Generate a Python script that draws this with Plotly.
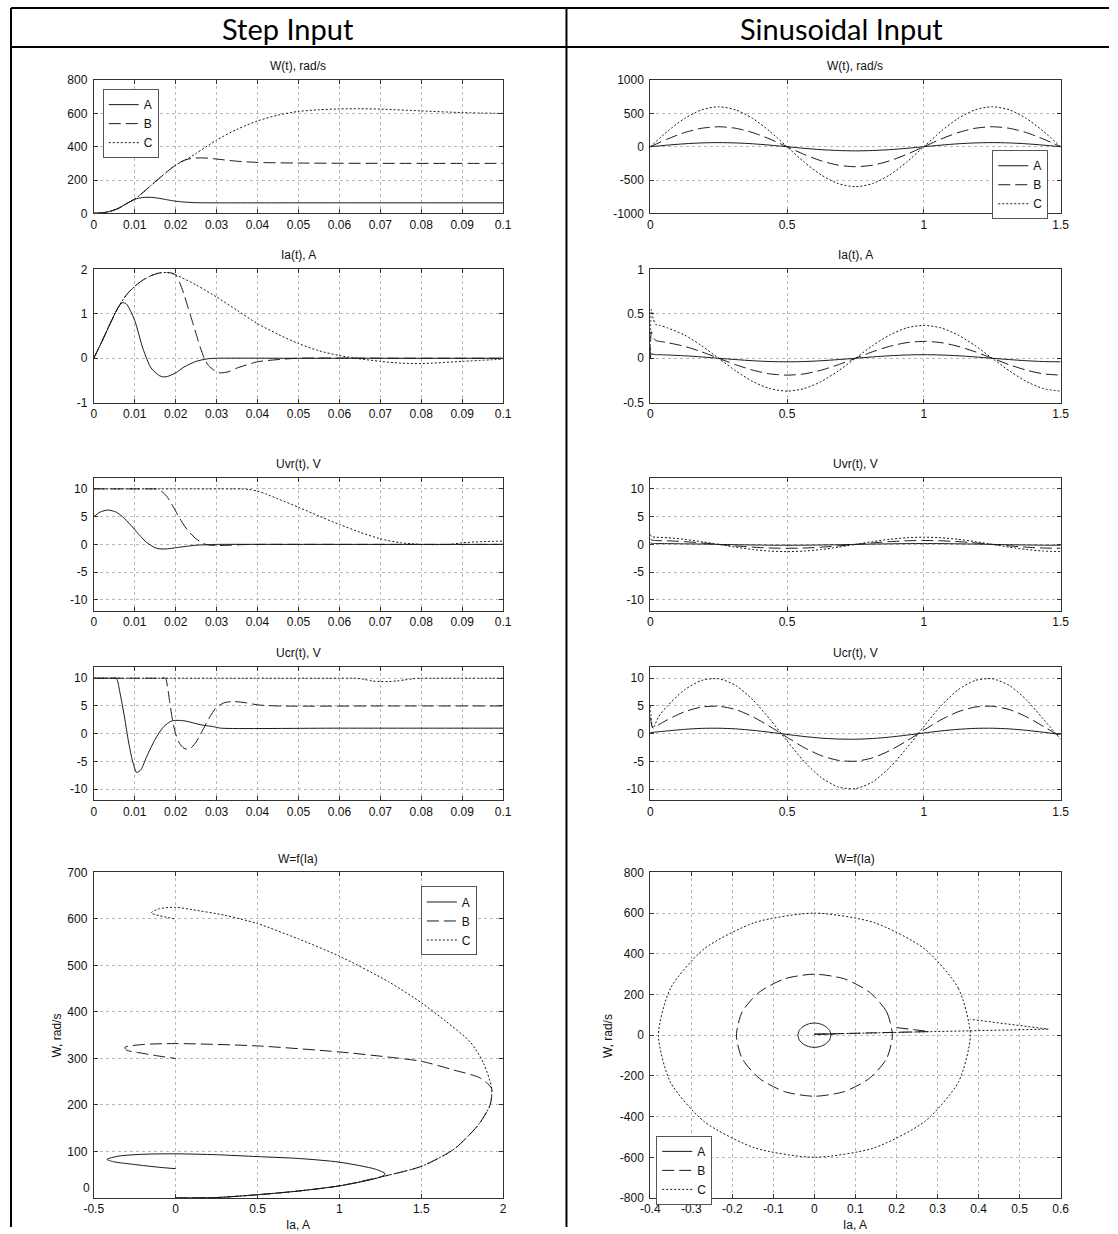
import plotly.graph_objects as go

W, H = 1118, 1234
# measured: the page photo shows the figure shrunk slightly and shifted by the body margin;
# these factors map reference pixels to figure pixels
SX, SY, OX, OY = 0.9857, 0.987, 8.0, 8.0

# ---------------- DATA ----------------
step_t_ticks = [0, 0.01, 0.02, 0.03, 0.04, 0.05, 0.06, 0.07, 0.08, 0.09, 0.1]
step_t_ticktext = ["0", "0.01", "0.02", "0.03", "0.04", "0.05", "0.06", "0.07", "0.08", "0.09", "0.1"]
sin_t_ticks = [0, 0.5, 1, 1.5]
sin_t_ticktext = ["0", "0.5", "1", "1.5"]

# Step W(t)
step_W_tA = [0, .002, .004, .006, .008, .010, .012, .014, .016, .018, .020, .022, .025, .030, .05, .1]
step_W_A = [0, 3, 12, 30, 58, 84, 95, 96, 90, 81, 73, 68, 64, 63, 63, 63]
step_W_tB = [0, .002, .004, .006, .008, .010, .012, .014, .016, .018, .020, .022, .024, .026, .028, .030, .035, .040, .050, .075, .1]
step_W_B = [0, 3, 12, 30, 58, 86, 125, 168, 210, 252, 290, 318, 330, 333, 331, 326, 313, 306, 302, 300, 300]
step_W_tC = [0, .002, .004, .006, .008, .010, .012, .014, .016, .018, .020, .022, .025, .030, .035, .040, .045, .050, .055, .060, .065, .070, .080, .090, .1]
step_W_C = [0, 3, 12, 30, 58, 86, 125, 168, 210, 252, 290, 315, 360, 440, 505, 555, 590, 612, 622, 627, 628, 626, 615, 605, 600]

# Step Ia(t)
step_I_tA = [0, .002, .004, .006, .007, .008, .010, .012, .014, .016, .017, .018, .020, .022, .025, .028, .030, .05, .1]
step_I_A = [0, 0.38, 0.78, 1.15, 1.25, 1.22, 0.85, 0.22, -0.22, -0.39, -0.42, -0.41, -0.33, -0.2, -0.07, -0.01, 0, 0, 0]
step_I_tB = [0, .002, .004, .006, .008, .010, .012, .014, .016, .018, .019, .020, .021, .022, .023, .024, .025, .026, .027, .028, .030, .031, .033, .035, .040, .045, .050, .075, .1]
step_I_B = [0, 0.38, 0.78, 1.15, 1.43, 1.62, 1.76, 1.86, 1.92, 1.93, 1.92, 1.88, 1.7, 1.45, 1.15, 0.85, 0.55, 0.25, 0.0, -0.16, -0.31, -0.33, -0.3, -0.22, -0.08, -0.03, 0, 0, 0]
step_I_tC = [0, .002, .004, .006, .008, .010, .012, .014, .016, .018, .020, .025, .030, .035, .040, .045, .050, .055, .060, .064, .070, .075, .080, .090, .1]
step_I_C = [0, 0.38, 0.78, 1.15, 1.43, 1.62, 1.76, 1.86, 1.92, 1.93, 1.88, 1.65, 1.38, 1.08, 0.78, 0.54, 0.33, 0.17, 0.06, 0, -0.07, -0.11, -0.12, -0.07, -0.02]

# Step Uvr(t)
step_Uv_tA = [0, .0015, .0035, .0055, .007, .009, .011, .013, .015, .016, .018, .020, .022, .025, .028, .030, .05, .1]
step_Uv_A = [5, 5.8, 6.2, 5.8, 5, 3.5, 1.8, 0.3, -0.6, -0.8, -0.8, -0.6, -0.4, -0.15, -0.05, 0, 0, 0]
step_Uv_tB = [0, .008, .014, .015, .016, .017, .018, .019, .020, .021, .022, .023, .024, .025, .026, .027, .028, .030, .033, .036, .040, .07, .1]
step_Uv_B = [10, 10, 10, 10, 9.8, 9.3, 8.5, 7.3, 6.0, 4.7, 3.5, 2.5, 1.7, 1.0, 0.5, 0.1, -0.1, -0.2, -0.15, -0.05, 0, 0, 0]
step_Uv_tC = [0, .02, .034, .036, .038, .040, .042, .045, .050, .055, .060, .065, .070, .075, .080, .087, .090, .095, .1]
step_Uv_C = [10, 10, 10, 10, 9.9, 9.6, 9.1, 8.2, 6.7, 5.1, 3.6, 2.2, 1.0, 0.3, 0, 0, 0.3, 0.5, 0.6]

# Step Ucr(t)
step_Uc_tA = [0, .003, .0045, .0055, .0065, .0075, .0085, .0095, .0105, .0115, .013, .015, .017, .019, .021, .023, .025, .027, .029, .030, .031, .06, .1]
step_Uc_A = [10, 10, 10, 10, 7, 3, -1.5, -5, -7, -6.5, -4, -1, 1.2, 2.3, 2.4, 2.2, 1.8, 1.5, 1.3, 1.15, 1, 1, 1]
step_Uc_tB = [0, .009, .016, .0175, .018, .0185, .019, .0195, .020, .021, .022, .023, .024, .025, .026, .027, .028, .029, .030, .032, .034, .037, .040, .045, .07, .1]
step_Uc_B = [10, 10, 10, 10, 8.5, 6, 3.5, 1.5, 0, -1.8, -2.6, -2.8, -2.4, -1.5, -0.2, 1.2, 2.6, 3.8, 4.8, 5.6, 5.8, 5.6, 5.2, 5, 5, 5]
step_Uc_tC = [0, .03, .062, .064, .066, .068, .070, .072, .074, .076, .078, .080, .082, .09, .1]
step_Uc_C = [10, 10, 10, 10, 9.8, 9.5, 9.4, 9.4, 9.5, 9.7, 9.9, 10, 10, 10, 10]

# Step W = f(Ia)
step_ph_IA = [0, 0.25, 0.5, 0.75, 1.0, 1.15, 1.25, 1.28, 1.22, 1.0, 0.75, 0.5, 0.25, 0, -0.2, -0.35, -0.42, -0.38, -0.25, -0.1, 0]
step_ph_WA = [0, 1, 7, 15, 26, 36, 45, 52, 62, 77, 85, 89, 93, 95, 94, 90, 83, 78, 72, 66, 63]
step_ph_IB = [0, 0.25, 0.5, 0.75, 1.0, 1.25, 1.5, 1.7, 1.85, 1.92, 1.93, 1.86, 1.7, 1.5, 1.3, 1.0, 0.5, 0, -0.2, -0.31, -0.3, -0.2, -0.1, 0]
step_ph_WB = [0, 1, 7, 15, 26, 45, 68, 105, 158, 200, 235, 258, 275, 294, 303, 314, 327, 332, 330, 324, 318, 311, 305, 300]
step_ph_IC = [0, 0.25, 0.5, 0.75, 1.0, 1.25, 1.5, 1.7, 1.85, 1.92, 1.93, 1.88, 1.8, 1.65, 1.5, 1.3, 1.0, 0.75, 0.5, 0.3, 0.1, 0, -0.1, -0.15, -0.1, -0.03, 0]
step_ph_WC = [0, 1, 7, 15, 26, 45, 68, 105, 158, 200, 235, 290, 335, 380, 420, 465, 520, 557, 590, 608, 620, 625, 622, 613, 607, 602, 600]

# Sinusoidal input
sin_t = [0, 0.0625, 0.125, 0.1875, 0.25, 0.3125, 0.375, 0.4375, 0.5, 0.5625, 0.625, 0.6875, 0.75,
         0.8125, 0.875, 0.9375, 1.0, 1.0625, 1.125, 1.1875, 1.25, 1.3125, 1.375, 1.4375, 1.5]
sin_W_A = [0, 24, 44, 57, 62, 57, 44, 24, 0, -24, -44, -57, -62, -57, -44, -24, 0, 24, 44, 57, 62, 57, 44, 24, 0]
sin_W_B = [0, 115, 212, 277, 300, 277, 212, 115, 0, -115, -212, -277, -300, -277, -212, -115, 0, 115, 212, 277, 300, 277, 212, 115, 0]
sin_W_C = [0, 230, 424, 554, 600, 554, 424, 230, 0, -230, -424, -554, -600, -554, -424, -230, 0, 230, 424, 554, 600, 554, 424, 230, 0]

sin_I_t = [0, 0.004, 0.01, 0.02, 0.035, 0.0625, 0.125, 0.1875, 0.25, 0.3125, 0.375, 0.4375, 0.5, 0.5625, 0.625, 0.6875, 0.75,
           0.8125, 0.875, 0.9375, 1.0, 1.0625, 1.125, 1.1875, 1.25, 1.3125, 1.375, 1.4375, 1.5]
sin_I_A = [0, 0.05, 0.045, 0.04, 0.04, 0.037, 0.028, 0.015, 0, -0.015, -0.028, -0.037, -0.04, -0.037, -0.028, -0.015, 0,
           0.015, 0.028, 0.037, 0.04, 0.037, 0.028, 0.015, 0, -0.015, -0.028, -0.037, -0.04]
sin_I_B = [0, 0.3, 0.24, 0.2, 0.19, 0.176, 0.134, 0.073, 0, -0.073, -0.134, -0.176, -0.19, -0.176, -0.134, -0.073, 0,
           0.073, 0.134, 0.176, 0.19, 0.176, 0.134, 0.073, 0, -0.073, -0.134, -0.176, -0.19]
sin_I_C = [0, 0.55, 0.45, 0.38, 0.37, 0.342, 0.262, 0.142, 0, -0.142, -0.262, -0.342, -0.37, -0.342, -0.262, -0.142, 0,
           0.142, 0.262, 0.342, 0.37, 0.342, 0.262, 0.142, 0, -0.142, -0.262, -0.342, -0.37]

sin_U_t = [0, 0.005, 0.02, 0.0625, 0.125, 0.1875, 0.25, 0.3125, 0.375, 0.4375, 0.5, 0.5625, 0.625, 0.6875, 0.75,
           0.8125, 0.875, 0.9375, 1.0, 1.0625, 1.125, 1.1875, 1.25, 1.3125, 1.375, 1.4375, 1.5]
sin_Uv_A = [0.3, 0.2, 0.15, 0.14, 0.1, 0.06, 0, -0.06, -0.1, -0.14, -0.15, -0.14, -0.1, -0.06, 0, 0.06, 0.1, 0.14, 0.15,
            0.14, 0.1, 0.06, 0, -0.06, -0.1, -0.14, -0.15]
sin_Uv_B = [1.0, 0.8, 0.7, 0.65, 0.5, 0.27, 0, -0.27, -0.5, -0.65, -0.7, -0.65, -0.5, -0.27, 0, 0.27, 0.5, 0.65, 0.7,
            0.65, 0.5, 0.27, 0, -0.27, -0.5, -0.65, -0.7]
sin_Uv_C = [1.8, 1.4, 1.3, 1.2, 0.92, 0.5, 0, -0.5, -0.92, -1.2, -1.3, -1.2, -0.92, -0.5, 0, 0.5, 0.92, 1.2, 1.3,
            1.2, 0.92, 0.5, 0, -0.5, -0.92, -1.2, -1.3]

sin_C_t = [0, 0.01, 0.03, 0.0625, 0.125, 0.1875, 0.25, 0.3125, 0.375, 0.4375, 0.5, 0.5625, 0.625, 0.6875, 0.75,
           0.8125, 0.875, 0.9375, 1.0, 1.0625, 1.125, 1.1875, 1.25, 1.3125, 1.375, 1.4375, 1.5]
sin_Uc_A = [0.2, 0.25, 0.35, 0.5, 0.79, 0.96, 0.99, 0.87, 0.61, 0.26, -0.13, -0.5, -0.79, -0.96, -0.99, -0.87, -0.61,
            -0.26, 0.13, 0.5, 0.79, 0.96, 0.99, 0.87, 0.61, 0.26, -0.13]
sin_Uc_B = [3, 1, 1.6, 2.5, 3.95, 4.8, 4.95, 4.35, 3.05, 1.3, -0.65, -2.5, -3.95, -4.8, -4.95, -4.35, -3.05, -1.3, 0.65,
            2.5, 3.95, 4.8, 4.95, 4.35, 3.05, 1.3, -0.5]
sin_Uc_C = [5, 1, 3, 5.0, 7.9, 9.6, 9.9, 8.7, 6.1, 2.6, -1.3, -5.0, -7.9, -9.6, -9.9, -8.7, -6.1, -2.6, 1.3,
            5.0, 7.9, 9.6, 9.9, 8.7, 6.1, 2.6, -1.0]

# Sinusoidal W = f(Ia): start-up transients and steady ellipses
sin_ph_tr_IA = [0, 0.05]
sin_ph_tr_WA = [5, 6]
sin_ph_IA = [0.04, 0.037, 0.028, 0.015, 0, -0.015, -0.028, -0.037, -0.04, -0.037, -0.028, -0.015, 0, 0.015, 0.028, 0.037, 0.04]
sin_ph_WA = [0, 23, 42, 55, 60, 55, 42, 23, 0, -23, -42, -55, -60, -55, -42, -23, 0]
sin_ph_tr_IB = [0, 0.28, 0.19]
sin_ph_tr_WB = [5, 18, 40]
sin_ph_IB = [0.19, 0.176, 0.134, 0.073, 0, -0.073, -0.134, -0.176, -0.19, -0.176, -0.134, -0.073, 0, 0.073, 0.134, 0.176, 0.19]
sin_ph_WB = [0, 115, 212, 277, 300, 277, 212, 115, 0, -115, -212, -277, -300, -277, -212, -115, 0]
sin_ph_tr_IC = [0, 0.57, 0.38]
sin_ph_tr_WC = [5, 30, 78]
sin_ph_IC = [0.38, 0.351, 0.269, 0.145, 0, -0.145, -0.269, -0.351, -0.38, -0.351, -0.269, -0.145, 0, 0.145, 0.269, 0.351, 0.38]
sin_ph_WC = [0, 230, 424, 554, 600, 554, 424, 230, 0, -230, -424, -554, -600, -554, -424, -230, 0]

series_names = ["A", "B", "C"]
col_headers = ["Step Input", "Sinusoidal Input"]
panel_titles = ["W(t), rad/s", "Ia(t), A", "Uvr(t), V", "Ucr(t), V", "W=f(Ia)"]

# ---------------- LAYOUT HELPERS ----------------
def fx(p):
    return max((p - OX) / SX, 0.0) / W


def fy(p):
    return 1 - max((p - OY) / SY, 0.0) / H


COLS = [(92, 502.5), (650, 1061.5)]
ROWS = [(81, 214), (270, 403), (478, 611), (667, 800), (872, 1197)]
TITLE_Y = [67, 256, 464, 653, 859]

LINE = "#1a1a1a"
STY = {"A": dict(color=LINE, width=1, dash="solid"),
       "B": dict(color=LINE, width=1, dash="12px,5px"),
       "C": dict(color=LINE, width=1, dash="2px,2px")}

FONT = "Liberation Sans, Arial, sans-serif"
FS = 12

fig = go.Figure()


def axkey(k, a):
    return f"{a}axis" if k == 1 else f"{a}axis{k}"


def axref(k, a):
    return a if k == 1 else f"{a}{k}"


def add(k, name, x, y, legend=None, shape="spline"):
    ln = dict(STY[name], shape=shape)
    if shape == "spline":
        ln["smoothing"] = 0.7
    fig.add_trace(go.Scatter(
        x=x, y=y, mode="lines", name=name, line=ln,
        xaxis=axref(k, "x"), yaxis=axref(k, "y"),
        showlegend=legend is not None, legend=legend if legend else "legend",
        hoverinfo="skip"))


# Step column
add(1, "A", step_W_tA, step_W_A, "legend")
add(1, "B", step_W_tB, step_W_B, "legend")
add(1, "C", step_W_tC, step_W_C, "legend")
add(3, "A", step_I_tA, step_I_A)
add(3, "B", step_I_tB, step_I_B)
add(3, "C", step_I_tC, step_I_C)
add(5, "A", step_Uv_tA, step_Uv_A)
add(5, "B", step_Uv_tB, step_Uv_B)
add(5, "C", step_Uv_tC, step_Uv_C)
add(7, "A", step_Uc_tA, step_Uc_A)
add(7, "B", step_Uc_tB, step_Uc_B)
add(7, "C", step_Uc_tC, step_Uc_C)
add(9, "A", step_ph_IA, step_ph_WA, "legend3")
add(9, "B", step_ph_IB, step_ph_WB, "legend3")
add(9, "C", step_ph_IC, step_ph_WC, "legend3")
# Sinusoidal column
add(2, "A", sin_t, sin_W_A, "legend2")
add(2, "B", sin_t, sin_W_B, "legend2")
add(2, "C", sin_t, sin_W_C, "legend2")
add(4, "A", sin_I_t, sin_I_A)
add(4, "B", sin_I_t, sin_I_B)
add(4, "C", sin_I_t, sin_I_C)
add(6, "A", sin_U_t, sin_Uv_A)
add(6, "B", sin_U_t, sin_Uv_B)
add(6, "C", sin_U_t, sin_Uv_C)
add(8, "A", sin_C_t, sin_Uc_A)
add(8, "B", sin_C_t, sin_Uc_B)
add(8, "C", sin_C_t, sin_Uc_C)
add(10, "A", sin_ph_IA, sin_ph_WA, "legend4")
add(10, "B", sin_ph_IB, sin_ph_WB, "legend4")
add(10, "C", sin_ph_IC, sin_ph_WC, "legend4")
add(10, "A", sin_ph_tr_IA, sin_ph_tr_WA, shape="linear")
add(10, "B", sin_ph_tr_IB, sin_ph_tr_WB, shape="linear")
add(10, "C", sin_ph_tr_IC, sin_ph_tr_WC, shape="linear")

U_ticks = [-10, -5, 0, 5, 10]
U_text = ["-10", "-5", "0", "5", "10"]
specs = {
    1: ([0, 0.1], step_t_ticks, step_t_ticktext, [0, 800], [0, 200, 400, 600, 800], ["0", "200", "400", "600", "800"]),
    2: ([0, 1.5], sin_t_ticks, sin_t_ticktext, [-1000, 1000], [-1000, -500, 0, 500, 1000], ["-1000", "-500", "0", "500", "1000"]),
    3: ([0, 0.1], step_t_ticks, step_t_ticktext, [-1, 2], [-1, 0, 1, 2], ["-1", "0", "1", "2"]),
    4: ([0, 1.5], sin_t_ticks, sin_t_ticktext, [-0.5, 1], [-0.5, 0, 0.5, 1], ["-0.5", "0", "0.5", "1"]),
    5: ([0, 0.1], step_t_ticks, step_t_ticktext, [-12, 12], U_ticks, U_text),
    6: ([0, 1.5], sin_t_ticks, sin_t_ticktext, [-12, 12], U_ticks, U_text),
    7: ([0, 0.1], step_t_ticks, step_t_ticktext, [-12, 12], U_ticks, U_text),
    8: ([0, 1.5], sin_t_ticks, sin_t_ticktext, [-12, 12], U_ticks, U_text),
    # the "0" label of this axis is written separately, a little higher, so it clears "-0.5"
    9: ([-0.5, 2], [-0.5, 0, 0.5, 1, 1.5, 2], ["-0.5", "0", "0.5", "1", "1.5", "2"],
        [0, 700], [0, 100, 200, 300, 400, 500, 600, 700], ["", "100", "200", "300", "400", "500", "600", "700"]),
    10: ([-0.4, 0.6], [-0.4, -0.3, -0.2, -0.1, 0, 0.1, 0.2, 0.3, 0.4, 0.5, 0.6],
         ["-0.4", "-0.3", "-0.2", "-0.1", "0", "0.1", "0.2", "0.3", "0.4", "0.5", "0.6"],
         [-800, 800], [-800, -600, -400, -200, 0, 200, 400, 600, 800],
         ["-800", "-600", "-400", "-200", "0", "200", "400", "600", "800"]),
}

layout = dict(
    width=W, height=H, autosize=False, margin=dict(l=0, r=0, t=0, b=0, pad=0),
    paper_bgcolor="white", plot_bgcolor="white",
    font=dict(family=FONT, size=FS, color="#111"),
    showlegend=True,
)

common_ax = dict(showline=True, linecolor="#333", linewidth=1, mirror="ticks",
                 ticks="inside", ticklen=4, tickcolor="#333", tickwidth=1,
                 showgrid=True, gridcolor="#b8b8b8", griddash="dot", gridwidth=1,
                 zeroline=False, tickmode="array", fixedrange=True,
                 tickfont=dict(family=FONT, size=FS, color="#111"))

for k in range(1, 11):
    r = (k - 1) // 2
    c = (k - 1) % 2
    x0, x1 = COLS[c]
    y0, y1 = ROWS[r]
    xr, xt, xtt, yr, yt, ytt = specs[k]
    layout[axkey(k, "x")] = dict(common_ax, domain=[fx(x0), fx(x1)], range=xr, tickvals=xt, ticktext=xtt,
                                 anchor=axref(k, "y"), ticklabelstandoff=0)
    layout[axkey(k, "y")] = dict(common_ax, domain=[fy(y1), fy(y0)], range=yr, tickvals=yt, ticktext=ytt,
                                 anchor=axref(k, "x"), ticklabelstandoff=3)

leg_common = dict(bgcolor="white", bordercolor="#555", borderwidth=1,
                  font=dict(family=FONT, size=FS, color="#111"),
                  xanchor="left", yanchor="top", traceorder="normal",
                  itemwidth=30, tracegroupgap=0)
layout["legend"] = dict(leg_common, x=fx(101), y=fy(90))
layout["legend2"] = dict(leg_common, x=fx(993), y=fy(151))
layout["legend3"] = dict(leg_common, x=fx(420), y=fy(886))
layout["legend4"] = dict(leg_common, x=fx(656), y=fy(1135))

annotations = []
for r in range(5):
    for c in range(2):
        xc = (COLS[c][0] + COLS[c][1]) / 2
        annotations.append(dict(text=panel_titles[r], x=fx(xc), y=fy(TITLE_Y[r]), xref="paper", yref="paper",
                                showarrow=False, xanchor="center", yanchor="middle",
                                font=dict(family=FONT, size=FS, color="#111")))
for c in range(2):
    xc = (COLS[c][0] + COLS[c][1]) / 2
    annotations.append(dict(text="Ia, A", x=fx(xc), y=fy(1224), xref="paper", yref="paper",
                            showarrow=False, xanchor="center", yanchor="middle",
                            font=dict(family=FONT, size=FS, color="#111")))
for xp in (55, 607):
    annotations.append(dict(text="W, rad/s", x=fx(xp), y=fy(1035), xref="paper", yref="paper",
                            showarrow=False, xanchor="center", yanchor="middle", textangle=-90,
                            font=dict(family=FONT, size=FS, color="#111")))
# "0" tick label of the step W=f(Ia) vertical axis, lifted slightly above its tick
annotations.append(dict(text="0", x=fx(COLS[0][0] - 3), y=fy(ROWS[4][1] - 2), xref="paper", yref="paper",
                        showarrow=False, xanchor="right", yanchor="bottom", borderpad=0,
                        font=dict(family=FONT, size=FS, color="#111")))
for c, (a, b) in enumerate([(8, 566), (566, 1118)]):
    annotations.append(dict(text=col_headers[c], x=fx((a + b) / 2), y=fy(29), xref="paper", yref="paper",
                            showarrow=False, xanchor="center", yanchor="middle",
                            font=dict(family="Lato, Open Sans, sans-serif", size=29, color="#000")))
layout["annotations"] = annotations

shapes = []


def seg(x0, y0, x1, y1, w=2):
    shapes.append(dict(type="line", xref="paper", yref="paper", x0=x0, y0=y0, x1=x1, y1=y1,
                       line=dict(color="#000", width=w)))


top = 1 - 1.0 / H
left = 1.0 / W
seg(left, top, 1, top)
seg(left, fy(48), 1, fy(48))
seg(left, top, left, 0)
seg(fx(566), top, fx(566), 0)
layout["shapes"] = shapes

fig.update_layout(layout)
fig.write_html("out.html")
